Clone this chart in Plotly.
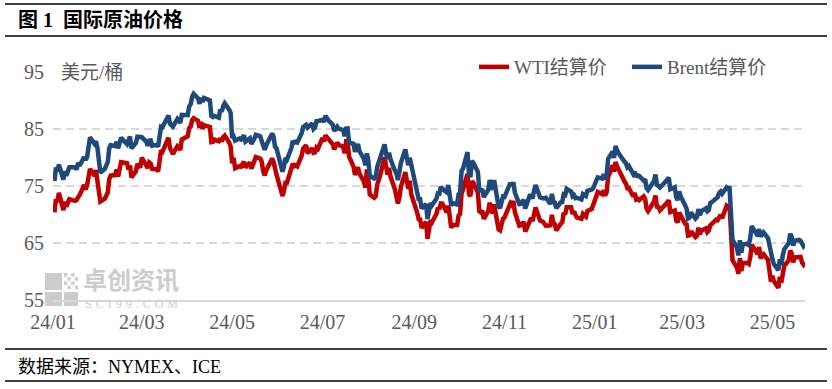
import pandas as pd
import plotly.graph_objects as go

# ---------------- data ----------------
us_holidays = ["2024-01-01", "2024-01-15", "2024-02-19", "2024-03-29", "2024-05-27",
               "2024-06-19", "2024-07-04", "2024-09-02", "2024-11-28", "2024-12-25",
               "2025-01-01", "2025-01-20", "2025-02-17", "2025-04-18", "2025-05-26"]
dates = pd.bdate_range("2024-01-02", "2025-05-23", freq="C", holidays=us_holidays)

wti_2024 = [
    70.38, 72.70, 72.19, 73.81, 70.77, 72.24, 71.37, 72.02, 72.68, 72.40, 72.56, 73.08, 73.41, 75.19, 74.37, 75.09, 77.36, 78.01, 76.78, 77.82, 75.85,
    73.82, 72.28, 72.78, 73.31, 73.86, 76.22, 76.84, 76.92, 77.87, 76.64, 78.03, 79.19, 79.00, 77.91, 78.61, 76.49, 77.58, 78.87, 78.54, 78.26,
    79.97, 78.74, 78.15, 79.13, 78.93, 78.01, 77.93, 77.56, 79.72, 81.26, 81.04, 82.72, 83.47, 81.68, 81.07, 80.63, 81.95, 81.62, 81.35, 83.17,
    83.71, 85.15, 85.43, 86.59, 86.91, 86.43, 85.23, 86.21, 85.02, 85.66, 85.41, 85.36, 82.69, 82.73, 83.14, 82.85, 83.36, 82.81, 83.57, 83.85, 82.63, 81.93,
    79.00, 79.95, 78.11, 78.48, 78.38, 78.99, 79.26, 78.26, 79.12, 78.02, 78.63, 79.23, 80.06, 79.80, 79.26, 77.57, 76.87, 77.72, 79.83, 79.23, 77.91, 76.99,
    74.22, 73.25, 74.07, 75.55, 75.53, 77.74, 78.90, 78.50, 78.62, 78.45, 80.33, 81.57, 82.17, 80.73, 81.63, 80.83, 80.90, 81.74, 81.54,
    83.38, 82.81, 83.88, 83.16, 82.33, 81.41, 82.10, 82.62, 82.21, 81.91, 80.76, 82.85, 82.82, 80.13, 78.40, 76.96, 77.59, 78.28, 77.16, 75.81, 74.73, 77.91,
    76.31, 73.52, 72.94, 73.20, 75.23, 75.85, 76.84, 80.06, 78.35, 76.98, 78.16, 76.65, 74.37, 73.17, 71.93, 72.95, 74.83, 77.42, 75.53, 74.52, 75.91, 73.55,
    70.34, 69.20, 69.15, 67.67, 68.71, 65.75, 67.31, 68.97, 68.65, 70.09, 71.19, 70.91, 71.95, 71.92, 70.37, 71.56, 69.69, 67.67, 68.18, 68.17,
    69.83, 70.10, 73.71, 74.38, 77.14, 73.57, 73.24, 75.85, 75.56, 73.83, 70.58, 70.39, 70.67, 69.22, 70.56, 72.09, 70.77, 70.19, 71.78, 67.38, 67.21, 68.61, 69.26,
    69.49, 71.47, 71.99, 71.69, 72.36, 70.38, 68.04, 68.12, 68.43, 68.70, 67.02, 69.16, 69.39, 68.87, 70.10, 71.24, 68.94, 68.77, 68.72, 68.00,
    68.10, 69.94, 68.54, 68.30, 67.20, 68.37, 68.59, 70.29, 70.02, 71.29, 71.29, 70.08, 70.58, 69.91, 69.46, 69.24, 70.10, 69.62, 70.60, 70.99, 71.72,
]
wti_2025 = [
    73.13, 73.96, 73.56, 74.25, 73.32, 73.92, 76.57, 78.62, 77.50, 79.20, 78.48, 77.88, 75.83, 75.44, 74.62, 74.66, 73.17, 73.77, 72.62, 72.73, 72.53,
    73.16, 72.70, 71.03, 70.61, 71.00, 72.32, 73.32, 71.37, 71.29, 70.74, 71.85, 72.25, 72.48, 70.40, 70.70, 68.93, 68.62, 70.35, 69.76,
    68.37, 68.26, 66.31, 66.36, 67.04, 66.03, 66.25, 67.68, 66.55, 67.18, 67.58, 66.90, 67.16, 68.07, 68.28, 69.11, 69.00, 69.65, 69.92, 69.36, 71.48,
    71.20, 71.71, 66.95, 61.99, 60.70, 59.60, 62.35, 60.07, 61.50, 61.53, 61.33, 62.47, 64.68, 63.08, 64.31, 62.27, 62.79, 63.02, 62.05, 60.42, 58.21,
    59.24, 58.29, 57.13, 59.09, 58.07, 59.91, 61.02, 61.95, 63.67, 63.15, 61.62, 62.49, 62.69, 62.56, 61.57, 61.20, 61.53,
]
brent_2024 = [
    75.89, 78.25, 77.59, 78.76, 76.12, 77.59, 76.80, 77.41, 78.29, 78.29, 77.88, 79.10, 78.56, 80.06, 79.55, 80.04, 82.43, 83.55, 82.40, 82.87, 81.71,
    78.70, 77.33, 77.99, 78.59, 79.21, 81.63, 82.19, 82.00, 82.77, 81.60, 82.86, 83.47, 82.34, 83.03, 83.67, 81.62, 82.53, 83.65, 83.68, 83.62,
    83.55, 82.80, 82.04, 82.96, 83.00, 82.08, 82.21, 81.92, 84.03, 85.42, 85.34, 86.89, 87.38, 85.95, 85.78, 85.43, 86.75, 86.25, 86.09, 87.48,
    87.42, 88.92, 89.35, 90.65, 91.17, 90.38, 89.42, 90.48, 89.74, 90.45, 90.10, 90.02, 87.29, 87.11, 87.29, 87.00, 88.42, 88.02, 89.01, 89.50, 88.40, 87.86,
    83.44, 83.67, 82.96, 83.33, 83.16, 83.58, 83.88, 82.79, 83.36, 82.38, 82.75, 83.27, 83.98, 83.71, 82.88, 81.90, 81.36, 82.12, 84.22, 83.60, 81.86, 81.62,
    78.36, 77.52, 78.41, 79.87, 79.62, 81.63, 82.92, 82.60, 82.75, 82.62, 84.25, 85.33, 85.71, 85.24, 86.01, 85.01, 85.25, 86.39, 86.41,
    86.60, 86.24, 87.34, 86.54, 85.75, 84.66, 85.08, 85.40, 85.03, 84.85, 83.73, 85.08, 85.11, 82.63, 82.40, 81.01, 81.71, 82.37, 81.13, 79.78, 78.63, 80.72,
    79.52, 76.81, 76.30, 76.48, 78.33, 79.16, 79.66, 82.30, 80.69, 79.76, 80.83, 79.68, 77.66, 77.20, 76.05, 77.22, 79.02, 81.43, 79.55, 78.65, 79.94, 78.80,
    73.75, 72.70, 72.69, 71.06, 71.84, 69.19, 70.61, 71.97, 71.61, 72.75, 73.70, 73.65, 74.88, 74.49, 73.90, 75.17, 73.46, 71.60, 71.98, 71.77,
    73.56, 73.90, 77.62, 78.05, 80.93, 77.18, 76.58, 79.40, 79.04, 77.46, 74.25, 74.22, 74.45, 73.06, 74.29, 76.04, 74.96, 74.38, 76.05, 71.42, 71.12, 72.55, 73.16,
    73.10, 75.08, 75.53, 75.04, 75.63, 73.87, 71.83, 71.89, 72.28, 72.56, 71.04, 73.30, 73.31, 72.81, 74.23, 75.17, 73.01, 72.81, 72.83, 72.94,
    71.83, 73.62, 72.31, 72.09, 71.12, 72.14, 72.19, 73.52, 73.41, 74.49, 74.05, 73.19, 73.39, 72.88, 72.94, 72.63, 73.58, 73.26, 74.17, 74.39, 74.64,
]
brent_2025 = [
    75.93, 76.51, 76.30, 77.05, 76.16, 76.92, 79.76, 81.01, 79.92, 82.03, 81.29, 80.79, 79.29, 79.00, 78.29, 78.50, 77.08, 77.49, 76.58, 76.87, 76.76,
    75.96, 76.20, 74.61, 74.29, 74.66, 75.87, 77.00, 75.18, 75.02, 74.74, 75.84, 76.04, 76.48, 74.43, 74.78, 73.02, 72.53, 74.04, 73.18,
    71.62, 71.04, 69.30, 69.46, 70.36, 69.28, 69.56, 70.95, 69.88, 70.58, 71.07, 70.56, 70.78, 72.00, 72.16, 73.00, 73.02, 73.79, 74.03, 73.63, 74.74,
    74.49, 74.95, 70.14, 65.58, 64.21, 62.82, 65.48, 63.33, 64.76, 64.88, 64.67, 65.85, 67.96, 66.26, 67.44, 66.12, 66.55, 66.87, 65.86, 64.25, 63.12,
    62.13, 61.29, 60.23, 62.15, 61.12, 62.84, 63.91, 64.96, 66.63, 66.09, 64.53, 65.41, 65.54, 65.38, 64.91, 64.44, 64.78,
]
wti = wti_2024 + wti_2025
brent = brent_2024 + brent_2025
assert len(dates) == len(wti) == len(brent), (len(dates), len(wti), len(brent))

y_ticks = [55, 65, 75, 85, 95]
x_ticks = ["2024-01-01", "2024-03-01", "2024-05-01", "2024-07-01", "2024-09-01",
           "2024-11-01", "2025-01-01", "2025-03-01", "2025-05-01"]
x_labels = ["24/01", "24/03", "24/05", "24/07", "24/09", "24/11", "25/01", "25/03", "25/05"]

# ---------------- layout helpers ----------------
W, H = 832, 389
L, R, T, B = 53, 805, 72, 300
def px(x):
    return (x - L) / (R - L)
def py(y):
    return (B - y) / (B - T)

SERIF = "Liberation Serif, Noto Sans CJK SC, sans-serif"
GRAY = "#595959"
WM = "#CCCCCC"

fig = go.Figure()
fig.add_trace(go.Scatter(x=dates, y=wti, mode="lines", name="WTI结算价",
                         line=dict(color="#C00000", width=4.5)))
fig.add_trace(go.Scatter(x=dates, y=brent, mode="lines", name="Brent结算价",
                         line=dict(color="#1F497D", width=4.5)))

shapes = []
# frame lines (title and source)
for yy in (4, 36, 349, 381):
    shapes.append(dict(type="line", xref="paper", yref="paper",
                       x0=px(5), x1=px(827), y0=py(yy), y1=py(yy),
                       line=dict(color="#000000", width=1.6)))
# watermark logo blocks
def rect(x0, y0, x1, y1, c=WM):
    shapes.append(dict(type="rect", xref="paper", yref="paper", layer="below",
                       x0=px(x0), x1=px(x1), y0=py(y0), y1=py(y1),
                       fillcolor=c, line=dict(width=0)))
rect(45, 273, 62, 290)
rect(45, 292, 62, 306)
rect(64, 292, 78, 306)
for i in range(4):
    for j in range(4):
        if (i + j) % 2 == 0:
            cx = 64 + i * 3.6
            cy = 273 + j * 4.2
            rect(cx, cy, cx + 3.2, cy + 3.6)

annotations = [
    dict(text="<b>图\u00a01\u00a0\u00a0国际原油价格</b>", x=px(16), y=py(20), xref="paper", yref="paper",
         xanchor="left", yanchor="middle", showarrow=False,
         font=dict(family=SERIF, size=20, color="#000000")),
    dict(text="数据来源：NYMEX、ICE", x=px(16), y=py(367), xref="paper", yref="paper",
         xanchor="left", yanchor="middle", showarrow=False,
         font=dict(family=SERIF, size=18, color="#000000")),
    dict(text="美元/桶", x=px(59), y=py(72), xref="paper", yref="paper",
         xanchor="left", yanchor="middle", showarrow=False,
         font=dict(family=SERIF, size=19, color=GRAY)),
    dict(text="<b>卓创资讯</b>", x=px(81), y=py(278), xref="paper", yref="paper",
         xanchor="left", yanchor="middle", showarrow=False,
         font=dict(family="Noto Sans CJK SC", size=24, color=WM)),
    dict(text="S\u2004C\u2004I\u20049\u20049\u2004.\u2004C\u2004O\u2004M", x=px(83), y=py(303.5),
         xref="paper", yref="paper", xanchor="left", yanchor="middle", showarrow=False,
         font=dict(family="Liberation Serif", size=12, color=WM)),
]

fig.update_layout(
    width=W, height=H,
    margin=dict(l=L, r=W - R, t=T, b=H - B, pad=0, autoexpand=False),
    paper_bgcolor="#FFFFFF", plot_bgcolor="#FFFFFF",
    showlegend=True,
    legend=dict(orientation="h", x=px(474), y=py(67), xanchor="left", yanchor="middle",
                font=dict(family=SERIF, size=19, color=GRAY),
                bgcolor="rgba(0,0,0,0)", itemwidth=30,
                entrywidth=108, entrywidthmode="pixels", tracegroupgap=0),
    shapes=shapes, annotations=annotations,
    xaxis=dict(type="date", range=["2024-01-01", "2025-05-23"],
               tickvals=x_ticks, ticktext=x_labels, showgrid=False,
               showline=True, linecolor="#D9D9D9", linewidth=1.6,
               ticks="", ticklabelstandoff=3,
               tickfont=dict(family=SERIF, size=20, color=GRAY), zeroline=False),
    yaxis=dict(range=[55, 95], tickvals=y_ticks, showgrid=True,
               gridcolor="#D9D9D9", gridwidth=1.5, griddash="8px,5px",
               showline=False, zeroline=False, ticks="", ticklabelstandoff=8,
               tickfont=dict(family=SERIF, size=20, color=GRAY)),
)

fig.write_html("out.html", config={"displayModeBar": False},
               post_script="document.body.style.margin='0px';document.body.style.overflow='hidden';")
